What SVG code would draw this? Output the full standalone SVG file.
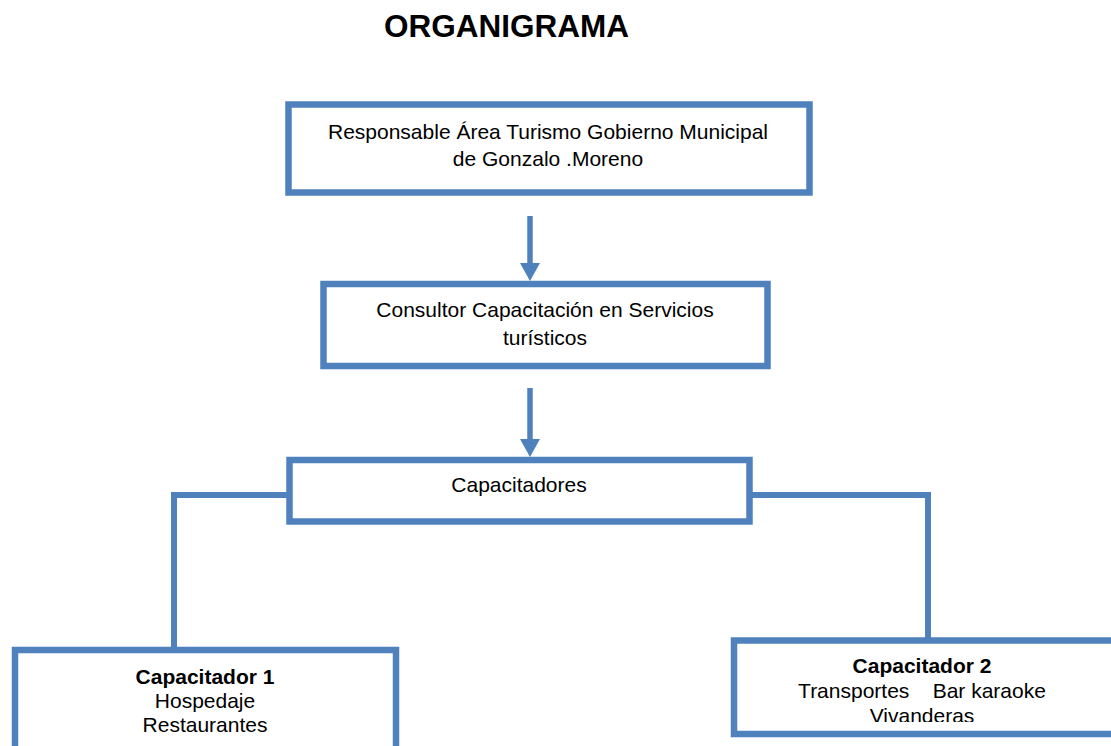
<svg xmlns="http://www.w3.org/2000/svg" width="1111" height="746" viewBox="0 0 1111 746">
<style>
.box{fill:#fff;stroke:#4F81BD;stroke-width:6.5}
.con{fill:none;stroke:#4F81BD;stroke-width:6}
.t{font-family:"Liberation Sans",Arial,sans-serif;font-size:21px;fill:#000;text-anchor:middle}
.b{font-weight:bold}
</style>
<defs>
<clipPath id="c5"><rect x="735" y="640" width="400" height="82"/></clipPath>
</defs>
<rect width="1111" height="746" fill="#fff"/>
<text x="506.5" y="37" style="font-family:'Liberation Sans',Arial,sans-serif;font-size:31.5px;font-weight:bold;text-anchor:middle">ORGANIGRAMA</text>
<g id="connectors">
<line class="con" x1="530" y1="216" x2="530" y2="264" style="stroke-width:5.5"/>
<path d="M520,263 L540,263 L530,281 Z" fill="#4F81BD"/>
<line class="con" x1="530" y1="388" x2="530" y2="440" style="stroke-width:5.5"/>
<path d="M520,439 L540,439 L530,457 Z" fill="#4F81BD"/>
<polyline class="con" points="289,495 174,495 174,648"/>
<polyline class="con" points="750,495 928,495 928,640"/>
</g>
<g id="n1">
<rect class="box" x="288.5" y="104.5" width="521" height="88"/>
<text class="t" x="548" y="139">Responsable Área Turismo Gobierno Municipal</text>
<text class="t" x="548" y="166">de Gonzalo .Moreno</text>
</g>
<g id="n2">
<rect class="box" x="323.5" y="284" width="444" height="82"/>
<text class="t" x="545" y="317">Consultor Capacitación en Servicios</text>
<text class="t" x="545" y="345">turísticos</text>
</g>
<g id="n3">
<rect class="box" x="289.5" y="460" width="460" height="61.5"/>
<text class="t" x="519" y="492">Capacitadores</text>
</g>
<g id="n4">
<rect class="box" x="15" y="650" width="381" height="120"/>
<text class="t b" x="205" y="684">Capacitador 1</text>
<text class="t" x="205" y="708">Hospedaje</text>
<text class="t" x="205" y="732">Restaurantes</text>
</g>
<g id="n5">
<rect class="box" x="734" y="640.5" width="400" height="93.5"/>
<g clip-path="url(#c5)">
<text class="t b" x="922" y="673">Capacitador 2</text>
<text class="t" x="922" y="698" xml:space="preserve">Transportes    Bar karaoke</text>
<text class="t" x="922" y="723">Vivanderas</text>
</g>
</g>
</svg>
